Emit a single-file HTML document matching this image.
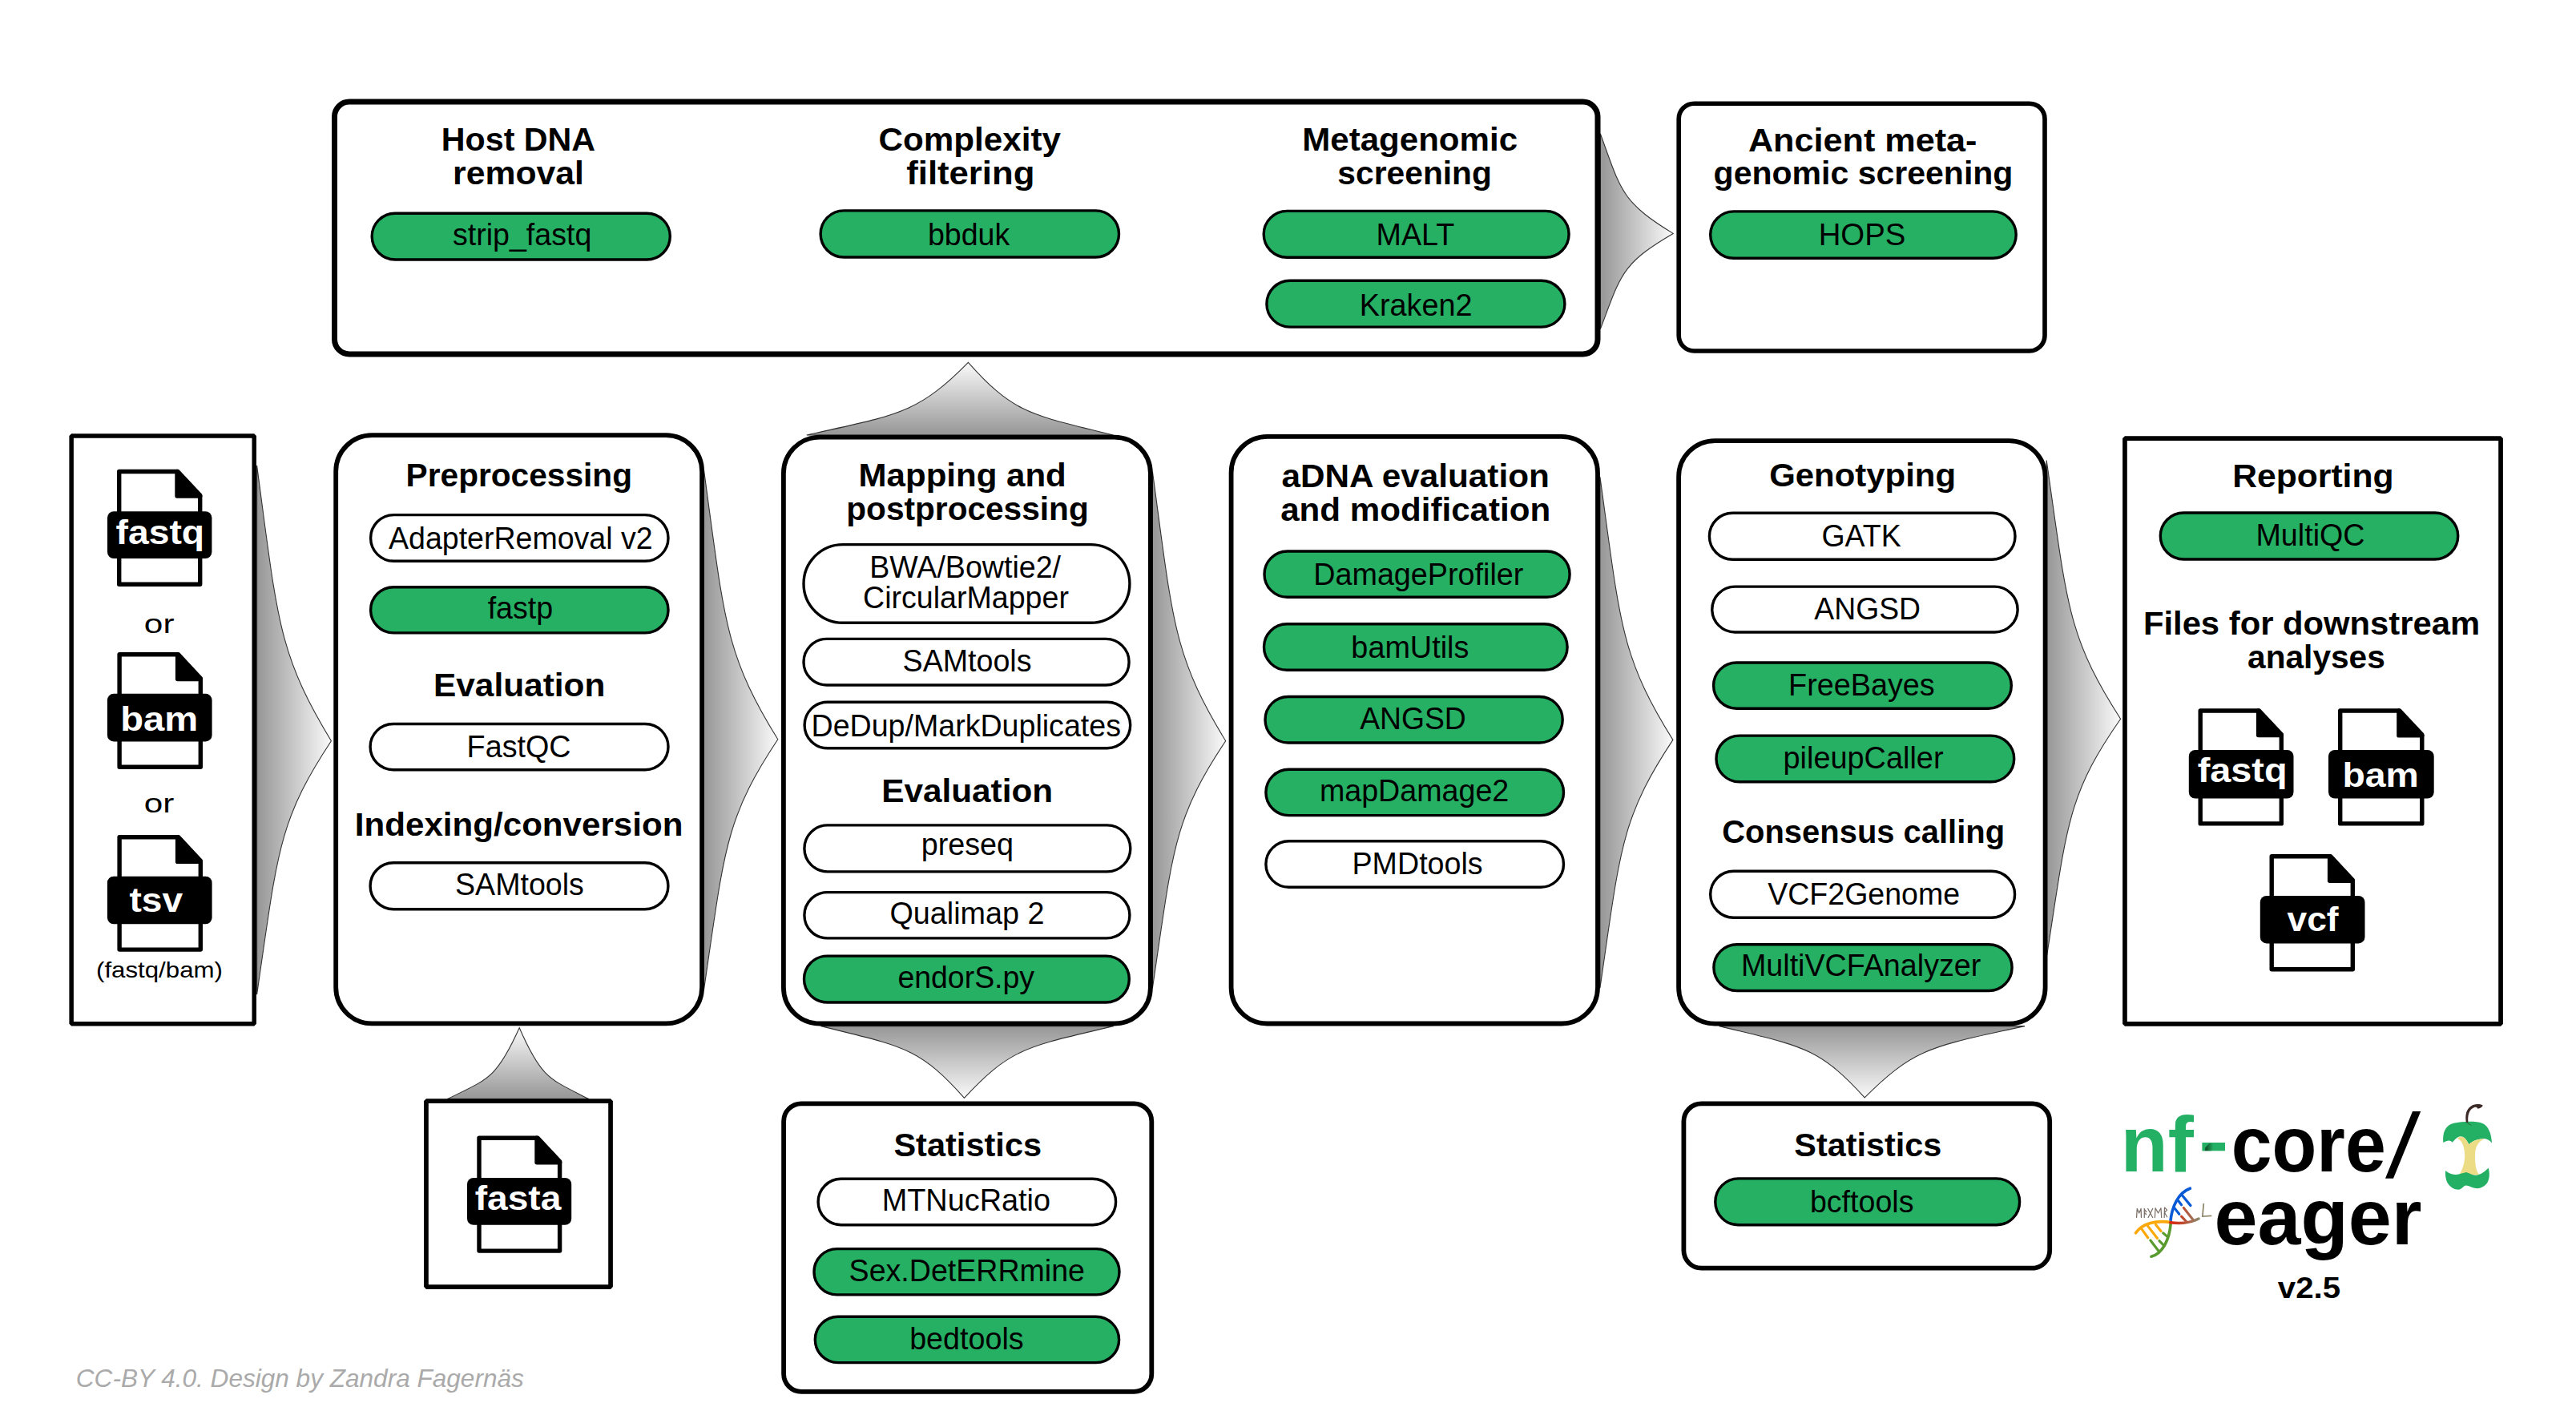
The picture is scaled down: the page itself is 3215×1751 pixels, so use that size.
<!DOCTYPE html><html><head><meta charset="utf-8"><style>html,body{margin:0;padding:0;background:#fff;width:3215px;height:1751px;overflow:hidden}svg{display:block}.p{font-family:"Liberation Sans",sans-serif;text-anchor:middle;fill:#000}.h{font-family:"Liberation Sans",sans-serif;font-weight:bold;text-anchor:middle;fill:#000}</style></head><body>
<svg width="3215" height="1751" viewBox="0 0 3215 1751">
<rect width="3215" height="1751" fill="#fff"/>
<linearGradient id="g3" gradientUnits="userSpaceOnUse" x1="320.6" y1="0" x2="413.4" y2="0"><stop offset="0" stop-color="#969696"/><stop offset="1" stop-color="#fafafa"/></linearGradient>
<path d="M320.6,581.1 C346.6,773.5 346.6,814.7 413.4,924.7 C346.6,1025.9 346.6,1063.9 320.6,1241.1 Z" fill="url(#g3)" stroke="#333" stroke-width="1.1"/>
<linearGradient id="g5" gradientUnits="userSpaceOnUse" x1="878.4" y1="0" x2="970.8" y2="0"><stop offset="0" stop-color="#969696"/><stop offset="1" stop-color="#fafafa"/></linearGradient>
<path d="M878.4,585.8 C904.3,774.5 904.3,815.0 970.8,922.8 C904.3,1023.0 904.3,1060.6 878.4,1235.9 Z" fill="url(#g5)" stroke="#333" stroke-width="1.1"/>
<linearGradient id="g7" gradientUnits="userSpaceOnUse" x1="1438.4" y1="0" x2="1529.7" y2="0"><stop offset="0" stop-color="#969696"/><stop offset="1" stop-color="#fafafa"/></linearGradient>
<path d="M1438.4,588.5 C1464.0,776.8 1464.0,817.1 1529.7,924.7 C1464.0,1023.4 1464.0,1060.4 1438.4,1233.2 Z" fill="url(#g7)" stroke="#333" stroke-width="1.1"/>
<linearGradient id="g9" gradientUnits="userSpaceOnUse" x1="1996.9" y1="0" x2="2087.9" y2="0"><stop offset="0" stop-color="#969696"/><stop offset="1" stop-color="#fafafa"/></linearGradient>
<path d="M1996.9,595.1 C2022.4,778.9 2022.4,818.3 2087.9,923.4 C2022.4,1022.5 2022.4,1059.7 1996.9,1233.2 Z" fill="url(#g9)" stroke="#333" stroke-width="1.1"/>
<linearGradient id="g11" gradientUnits="userSpaceOnUse" x1="2554.2" y1="0" x2="2646.6" y2="0"><stop offset="0" stop-color="#969696"/><stop offset="1" stop-color="#fafafa"/></linearGradient>
<path d="M2554.2,574.5 C2580.1,755.2 2580.1,793.9 2646.6,897.2 C2580.1,992.6 2580.1,1028.4 2554.2,1195.3 Z" fill="url(#g11)" stroke="#333" stroke-width="1.1"/>
<linearGradient id="g13" gradientUnits="userSpaceOnUse" x1="1997.4" y1="0" x2="2088.2" y2="0"><stop offset="0" stop-color="#969696"/><stop offset="1" stop-color="#fafafa"/></linearGradient>
<path d="M1997.4,167 C2022.8,236.7 2022.8,251.6 2088.2,291.4 C2022.8,329.5 2022.8,343.8 1997.4,410.6 Z" fill="url(#g13)" stroke="#333" stroke-width="1.1"/>
<linearGradient id="g15" gradientUnits="userSpaceOnUse" x1="0" y1="543" x2="0" y2="452.3"><stop offset="0" stop-color="#969696"/><stop offset="1" stop-color="#fafafa"/></linearGradient>
<path d="M1006.8,543 C1119.7,517.6 1143.9,517.6 1208.4,452.3 C1266.4,517.6 1288.1,517.6 1389.6,543 Z" fill="url(#g15)" stroke="#333" stroke-width="1.1"/>
<linearGradient id="g17" gradientUnits="userSpaceOnUse" x1="0" y1="1371.6" x2="0" y2="1282.8"><stop offset="0" stop-color="#969696"/><stop offset="1" stop-color="#fafafa"/></linearGradient>
<path d="M558.4,1371.6 C608.7,1346.7 619.5,1346.7 648.2,1282.8 C676.0,1346.7 686.4,1346.7 735,1371.6 Z" fill="url(#g17)" stroke="#333" stroke-width="1.1"/>
<linearGradient id="g19" gradientUnits="userSpaceOnUse" x1="0" y1="1280.6" x2="0" y2="1370.3"><stop offset="0" stop-color="#969696"/><stop offset="1" stop-color="#fafafa"/></linearGradient>
<path d="M1024.5,1280.6 C1124.7,1305.7 1146.2,1305.7 1203.5,1370.3 C1263.1,1305.7 1285.4,1305.7 1389.7,1280.6 Z" fill="url(#g19)" stroke="#333" stroke-width="1.1"/>
<linearGradient id="g21" gradientUnits="userSpaceOnUse" x1="0" y1="1280.6" x2="0" y2="1369.9"><stop offset="0" stop-color="#969696"/><stop offset="1" stop-color="#fafafa"/></linearGradient>
<path d="M2145.6,1280.6 C2247.3,1305.6 2269.1,1305.6 2327.2,1369.9 C2391.1,1305.6 2415.1,1305.6 2527,1280.6 Z" fill="url(#g21)" stroke="#333" stroke-width="1.1"/>
<rect x="417.50" y="127.00" width="1576.50" height="315.00" rx="18.5" fill="#fff" stroke="#000" stroke-width="7" stroke-linejoin="miter"/>
<rect x="2095.20" y="129.20" width="456.80" height="308.80" rx="19.2" fill="#fff" stroke="#000" stroke-width="5.6" stroke-linejoin="miter"/>
<rect x="89.15" y="543.95" width="228.10" height="733.90" rx="0.0" fill="#fff" stroke="#000" stroke-width="5.5" stroke-linejoin="bevel"/>
<rect x="419.20" y="543.20" width="456.90" height="734.20" rx="45.1" fill="#fff" stroke="#000" stroke-width="5.8" stroke-linejoin="miter"/>
<rect x="977.90" y="545.60" width="458.00" height="731.90" rx="45.1" fill="#fff" stroke="#000" stroke-width="5.8" stroke-linejoin="miter"/>
<rect x="1536.60" y="544.90" width="457.40" height="732.60" rx="45.1" fill="#fff" stroke="#000" stroke-width="5.8" stroke-linejoin="miter"/>
<rect x="2095.10" y="550.10" width="457.50" height="727.50" rx="45.1" fill="#fff" stroke="#000" stroke-width="5.8" stroke-linejoin="miter"/>
<rect x="2651.95" y="547.05" width="469.10" height="730.90" rx="0.0" fill="#fff" stroke="#000" stroke-width="5.7" stroke-linejoin="bevel"/>
<rect x="531.95" y="1374.05" width="230.10" height="232.00" rx="0.0" fill="#fff" stroke="#000" stroke-width="5.7" stroke-linejoin="bevel"/>
<rect x="978.10" y="1377.30" width="459.20" height="359.50" rx="22.1" fill="#fff" stroke="#000" stroke-width="5.8" stroke-linejoin="miter"/>
<rect x="2101.40" y="1377.40" width="456.80" height="205.30" rx="22.1" fill="#fff" stroke="#000" stroke-width="5.8" stroke-linejoin="miter"/>
<text x="550.84" y="188.2" class="h" style="text-anchor:start;" font-size="40" textLength="192.24" lengthAdjust="spacingAndGlyphs">Host DNA</text>
<text x="565.08" y="229.6" class="h" style="text-anchor:start;" font-size="40" textLength="163.84" lengthAdjust="spacingAndGlyphs">removal</text>
<text x="1096.47" y="188.2" class="h" style="text-anchor:start;" font-size="40" textLength="227.46" lengthAdjust="spacingAndGlyphs">Complexity</text>
<text x="1131.25" y="229.7" class="h" style="text-anchor:start;" font-size="40" textLength="160.07" lengthAdjust="spacingAndGlyphs">filtering</text>
<text x="1625.19" y="187.8" class="h" style="text-anchor:start;" font-size="40" textLength="268.85" lengthAdjust="spacingAndGlyphs">Metagenomic</text>
<text x="1669.37" y="230.1" class="h" style="text-anchor:start;" font-size="40" textLength="192.56" lengthAdjust="spacingAndGlyphs">screening</text>
<text x="2181.92" y="188.6" class="h" style="text-anchor:start;" font-size="40" textLength="285.61" lengthAdjust="spacingAndGlyphs">Ancient meta-</text>
<text x="2138.62" y="229.9" class="h" style="text-anchor:start;" font-size="40" textLength="373.83" lengthAdjust="spacingAndGlyphs">genomic screening</text>
<rect x="464.2" y="266.2" width="372.1" height="57.8" rx="28.9" fill="#25b063" stroke="#000" stroke-width="3.4"/>
<text x="564.95" y="306.4" class="p" style="text-anchor:start" font-size="38" textLength="173.45" lengthAdjust="spacingAndGlyphs">strip_fastq</text>
<rect x="1024.1" y="262.9" width="372.4" height="58.1" rx="29.1" fill="#25b063" stroke="#000" stroke-width="3.4"/>
<text x="1157.88" y="305.9" class="p" style="text-anchor:start" font-size="38" textLength="102.37" lengthAdjust="spacingAndGlyphs">bbduk</text>
<rect x="1577.2" y="263.4" width="380.9" height="57.9" rx="29.0" fill="#25b063" stroke="#000" stroke-width="3.4"/>
<text x="1717.60" y="306.3" class="p" style="text-anchor:start" font-size="38" textLength="97.64" lengthAdjust="spacingAndGlyphs">MALT</text>
<rect x="1580.9" y="350.2" width="372.0" height="57.9" rx="29.0" fill="#25b063" stroke="#000" stroke-width="3.4"/>
<text x="1696.80" y="393.5" class="p" style="text-anchor:start" font-size="38" textLength="140.70" lengthAdjust="spacingAndGlyphs">Kraken2</text>
<rect x="2134.7" y="263.9" width="381.5" height="58.4" rx="29.2" fill="#25b063" stroke="#000" stroke-width="3.4"/>
<text x="2269.66" y="305.8" class="p" style="text-anchor:start" font-size="38" textLength="108.60" lengthAdjust="spacingAndGlyphs">HOPS</text>
<text x="506.58" y="607.0" class="h" style="text-anchor:start;" font-size="40" textLength="282.44" lengthAdjust="spacingAndGlyphs">Preprocessing</text>
<rect x="462.6" y="642.6" width="371.4" height="57.7" rx="28.9" fill="#fff" stroke="#000" stroke-width="3.4"/>
<text x="485.03" y="685.0" class="p" style="text-anchor:start" font-size="38" textLength="329.56" lengthAdjust="spacingAndGlyphs">AdapterRemoval v2</text>
<rect x="462.6" y="732.7" width="371.4" height="57.2" rx="28.6" fill="#25b063" stroke="#000" stroke-width="3.4"/>
<text x="608.67" y="771.7" class="p" style="text-anchor:start" font-size="38" textLength="81.51" lengthAdjust="spacingAndGlyphs">fastp</text>
<text x="540.96" y="868.6" class="h" style="text-anchor:start;" font-size="40" textLength="214.47" lengthAdjust="spacingAndGlyphs">Evaluation</text>
<rect x="462.1" y="903.5" width="371.9" height="57.2" rx="28.6" fill="#fff" stroke="#000" stroke-width="3.4"/>
<text x="582.60" y="945.0" class="p" style="text-anchor:start" font-size="38" textLength="130.03" lengthAdjust="spacingAndGlyphs">FastQC</text>
<text x="442.88" y="1042.6" class="h" style="text-anchor:start;" font-size="40" textLength="409.53" lengthAdjust="spacingAndGlyphs">Indexing/conversion</text>
<rect x="462.1" y="1076.7" width="371.8" height="58.0" rx="29.0" fill="#fff" stroke="#000" stroke-width="3.4"/>
<text x="567.99" y="1116.7" class="p" style="text-anchor:start" font-size="38" textLength="160.87" lengthAdjust="spacingAndGlyphs">SAMtools</text>
<text x="1071.59" y="606.7" class="h" style="text-anchor:start;" font-size="40" textLength="259.18" lengthAdjust="spacingAndGlyphs">Mapping and</text>
<text x="1056.32" y="648.6" class="h" style="text-anchor:start;" font-size="40" textLength="302.39" lengthAdjust="spacingAndGlyphs">postprocessing</text>
<rect x="1003.0" y="679.6" width="406.9" height="97.7" rx="48.9" fill="#fff" stroke="#000" stroke-width="3.4"/>
<text x="1085.24" y="720.7" class="p" style="text-anchor:start" font-size="38" textLength="238.76" lengthAdjust="spacingAndGlyphs">BWA/Bowtie2/</text>
<text x="1077.09" y="758.9" class="p" style="text-anchor:start" font-size="38" textLength="256.83" lengthAdjust="spacingAndGlyphs">CircularMapper</text>
<rect x="1003.0" y="797.4" width="406.1" height="57.6" rx="28.8" fill="#fff" stroke="#000" stroke-width="3.4"/>
<text x="1126.59" y="838.1" class="p" style="text-anchor:start" font-size="38" textLength="160.97" lengthAdjust="spacingAndGlyphs">SAMtools</text>
<rect x="1004.1" y="876.2" width="406.6" height="57.5" rx="28.7" fill="#fff" stroke="#000" stroke-width="3.4"/>
<text x="1012.52" y="918.9" class="p" style="text-anchor:start" font-size="38" textLength="386.44" lengthAdjust="spacingAndGlyphs">DeDup/MarkDuplicates</text>
<text x="1100.27" y="1000.6" class="h" style="text-anchor:start;" font-size="40" textLength="213.85" lengthAdjust="spacingAndGlyphs">Evaluation</text>
<rect x="1003.9" y="1029.9" width="406.9" height="58.0" rx="29.0" fill="#fff" stroke="#000" stroke-width="3.4"/>
<text x="1149.67" y="1066.5" class="p" style="text-anchor:start" font-size="38" textLength="115.45" lengthAdjust="spacingAndGlyphs">preseq</text>
<rect x="1003.9" y="1113.6" width="406.0" height="57.3" rx="28.6" fill="#fff" stroke="#000" stroke-width="3.4"/>
<text x="1110.41" y="1153.1" class="p" style="text-anchor:start" font-size="38" textLength="193.09" lengthAdjust="spacingAndGlyphs">Qualimap 2</text>
<rect x="1003.5" y="1193.1" width="405.8" height="57.9" rx="28.9" fill="#25b063" stroke="#000" stroke-width="3.4"/>
<text x="1120.41" y="1233.0" class="p" style="text-anchor:start" font-size="38" textLength="170.66" lengthAdjust="spacingAndGlyphs">endorS.py</text>
<text x="1599.57" y="608.1" class="h" style="text-anchor:start;" font-size="40" textLength="334.24" lengthAdjust="spacingAndGlyphs">aDNA evaluation</text>
<text x="1598.17" y="649.8" class="h" style="text-anchor:start;" font-size="40" textLength="337.05" lengthAdjust="spacingAndGlyphs">and modification</text>
<rect x="1578.0" y="688.0" width="381.1" height="57.3" rx="28.7" fill="#25b063" stroke="#000" stroke-width="3.4"/>
<text x="1639.20" y="729.5" class="p" style="text-anchor:start" font-size="38" textLength="262.22" lengthAdjust="spacingAndGlyphs">DamageProfiler</text>
<rect x="1577.5" y="778.8" width="378.6" height="57.5" rx="28.7" fill="#25b063" stroke="#000" stroke-width="3.4"/>
<text x="1686.36" y="820.8" class="p" style="text-anchor:start" font-size="38" textLength="147.00" lengthAdjust="spacingAndGlyphs">bamUtils</text>
<rect x="1579.0" y="869.5" width="371.2" height="57.5" rx="28.8" fill="#25b063" stroke="#000" stroke-width="3.4"/>
<text x="1697.13" y="909.8" class="p" style="text-anchor:start" font-size="38" textLength="132.66" lengthAdjust="spacingAndGlyphs">ANGSD</text>
<rect x="1579.9" y="960.2" width="371.6" height="57.4" rx="28.7" fill="#25b063" stroke="#000" stroke-width="3.4"/>
<text x="1646.90" y="1000.4" class="p" style="text-anchor:start" font-size="38" textLength="236.39" lengthAdjust="spacingAndGlyphs">mapDamage2</text>
<rect x="1579.9" y="1049.7" width="371.6" height="57.6" rx="28.8" fill="#fff" stroke="#000" stroke-width="3.4"/>
<text x="1687.51" y="1090.7" class="p" style="text-anchor:start" font-size="38" textLength="163.15" lengthAdjust="spacingAndGlyphs">PMDtools</text>
<text x="2208.18" y="607.0" class="h" style="text-anchor:start;" font-size="40" textLength="232.82" lengthAdjust="spacingAndGlyphs">Genotyping</text>
<rect x="2133.4" y="640.2" width="381.6" height="58.0" rx="29.0" fill="#fff" stroke="#000" stroke-width="3.4"/>
<text x="2273.47" y="681.7" class="p" style="text-anchor:start" font-size="38" textLength="99.24" lengthAdjust="spacingAndGlyphs">GATK</text>
<rect x="2136.8" y="732.1" width="381.3" height="56.9" rx="28.5" fill="#fff" stroke="#000" stroke-width="3.4"/>
<text x="2264.33" y="773.3" class="p" style="text-anchor:start" font-size="38" textLength="132.66" lengthAdjust="spacingAndGlyphs">ANGSD</text>
<rect x="2138.6" y="827.0" width="371.7" height="57.2" rx="28.6" fill="#25b063" stroke="#000" stroke-width="3.4"/>
<text x="2232.10" y="868.2" class="p" style="text-anchor:start" font-size="38" textLength="182.66" lengthAdjust="spacingAndGlyphs">FreeBayes</text>
<rect x="2142.0" y="918.1" width="371.7" height="57.7" rx="28.9" fill="#25b063" stroke="#000" stroke-width="3.4"/>
<text x="2225.56" y="958.5" class="p" style="text-anchor:start" font-size="38" textLength="199.97" lengthAdjust="spacingAndGlyphs">pileupCaller</text>
<text x="2149.26" y="1051.6" class="h" style="text-anchor:start;" font-size="40" textLength="352.81" lengthAdjust="spacingAndGlyphs">Consensus calling</text>
<rect x="2134.7" y="1087.3" width="379.9" height="57.9" rx="29.0" fill="#fff" stroke="#000" stroke-width="3.4"/>
<text x="2206.24" y="1129.2" class="p" style="text-anchor:start" font-size="38" textLength="239.83" lengthAdjust="spacingAndGlyphs">VCF2Genome</text>
<rect x="2138.9" y="1178.7" width="372.2" height="57.8" rx="28.9" fill="#25b063" stroke="#000" stroke-width="3.4"/>
<text x="2172.93" y="1218.3" class="p" style="text-anchor:start" font-size="38" textLength="299.39" lengthAdjust="spacingAndGlyphs">MultiVCFAnalyzer</text>
<text x="2786.15" y="607.9" class="h" style="text-anchor:start;" font-size="40" textLength="201.41" lengthAdjust="spacingAndGlyphs">Reporting</text>
<rect x="2696.3" y="640.0" width="371.4" height="58.0" rx="29.0" fill="#25b063" stroke="#000" stroke-width="3.4"/>
<text x="2815.51" y="681.0" class="p" style="text-anchor:start" font-size="38" textLength="136.02" lengthAdjust="spacingAndGlyphs">MultiQC</text>
<text x="2674.91" y="792.3" class="h" style="text-anchor:start;" font-size="40" textLength="420.19" lengthAdjust="spacingAndGlyphs">Files for downstream</text>
<text x="2805.11" y="834.1" class="h" style="text-anchor:start;" font-size="40" textLength="171.66" lengthAdjust="spacingAndGlyphs">analyses</text>
<path d="M2746.2,887.0 L2819.6,887.0 L2847.3,916.6 L2847.3,1027.9 L2746.2,1027.9 Z" fill="#fff" stroke="#000" stroke-width="5.4" stroke-linejoin="round"/>
<path d="M2818.6,887.0 L2847.3,917.6 L2818.6,917.6 Z" fill="#000" stroke="#000" stroke-width="5.4" stroke-linejoin="round"/>
<rect x="2731.8" y="936.0" width="130.7" height="60.6" rx="8" fill="#000"/>
<text x="2742.70" y="976.0" class="h" style="fill:#fff;text-anchor:start" font-size="43" textLength="111.83" lengthAdjust="spacingAndGlyphs">fastq</text>
<path d="M2920.7,887.0 L2994.9,887.0 L3022.8,916.9 L3022.8,1027.9 L2920.7,1027.9 Z" fill="#fff" stroke="#000" stroke-width="5.4" stroke-linejoin="round"/>
<path d="M2993.9,887.0 L3022.8,917.9 L2993.9,917.9 Z" fill="#000" stroke="#000" stroke-width="5.4" stroke-linejoin="round"/>
<rect x="2906.0" y="936.0" width="131.7" height="60.6" rx="8" fill="#000"/>
<text x="2923.44" y="981.6" class="h" style="fill:#fff;text-anchor:start" font-size="43" textLength="95.44" lengthAdjust="spacingAndGlyphs">bam</text>
<path d="M2835.2,1068.7 L2908.6,1068.7 L2936.3,1098.3 L2936.3,1209.7 L2835.2,1209.7 Z" fill="#fff" stroke="#000" stroke-width="5.4" stroke-linejoin="round"/>
<path d="M2907.6,1068.7 L2936.3,1099.3 L2907.6,1099.3 Z" fill="#000" stroke="#000" stroke-width="5.4" stroke-linejoin="round"/>
<rect x="2820.8" y="1118.0" width="130.7" height="59.4" rx="8" fill="#000"/>
<text x="2854.53" y="1162.4" class="h" style="fill:#fff;text-anchor:start" font-size="43" textLength="64.09" lengthAdjust="spacingAndGlyphs">vcf</text>
<path d="M148.7,588.5 L222.0,588.5 L249.7,618.1 L249.7,729.3 L148.7,729.3 Z" fill="#fff" stroke="#000" stroke-width="5.4" stroke-linejoin="round"/>
<path d="M221.0,588.5 L249.7,619.1 L221.0,619.1 Z" fill="#000" stroke="#000" stroke-width="5.4" stroke-linejoin="round"/>
<rect x="134.0" y="638.2" width="130.4" height="58.8" rx="8" fill="#000"/>
<text x="144.51" y="678.8" class="h" style="fill:#fff;text-anchor:start" font-size="43" textLength="110.59" lengthAdjust="spacingAndGlyphs">fastq</text>
<text x="179.82" y="789.8" class="p" style="text-anchor:start;" font-size="34" textLength="37.68" lengthAdjust="spacingAndGlyphs">or</text>
<path d="M149.1,816.8 L222.6,816.8 L250.3,846.5 L250.3,957.2 L149.1,957.2 Z" fill="#fff" stroke="#000" stroke-width="5.4" stroke-linejoin="round"/>
<path d="M221.6,816.8 L250.3,847.5 L221.6,847.5 Z" fill="#000" stroke="#000" stroke-width="5.4" stroke-linejoin="round"/>
<rect x="133.9" y="865.8" width="130.7" height="59.6" rx="8" fill="#000"/>
<text x="150.19" y="911.9" class="h" style="fill:#fff;text-anchor:start" font-size="43" textLength="96.93" lengthAdjust="spacingAndGlyphs">bam</text>
<text x="179.73" y="1013.8" class="p" style="text-anchor:start;" font-size="34" textLength="37.58" lengthAdjust="spacingAndGlyphs">or</text>
<path d="M149.1,1044.7 L222.6,1044.7 L250.3,1074.4 L250.3,1185.1 L149.1,1185.1 Z" fill="#fff" stroke="#000" stroke-width="5.4" stroke-linejoin="round"/>
<path d="M221.6,1044.7 L250.3,1075.4 L221.6,1075.4 Z" fill="#000" stroke="#000" stroke-width="5.4" stroke-linejoin="round"/>
<rect x="133.9" y="1093.7" width="130.7" height="59.6" rx="8" fill="#000"/>
<text x="161.44" y="1137.6" class="h" style="fill:#fff;text-anchor:start" font-size="43" textLength="66.67" lengthAdjust="spacingAndGlyphs">tsv</text>
<text x="120.06" y="1220.0" class="p" style="text-anchor:start;" font-size="28" textLength="157.87" lengthAdjust="spacingAndGlyphs">(fastq/bam)</text>
<path d="M598.0,1420.2 L671.0,1420.2 L698.6,1449.7 L698.6,1561.1 L598.0,1561.1 Z" fill="#fff" stroke="#000" stroke-width="5.4" stroke-linejoin="round"/>
<path d="M670.0,1420.2 L698.6,1450.7 L670.0,1450.7 Z" fill="#000" stroke="#000" stroke-width="5.4" stroke-linejoin="round"/>
<rect x="583.0" y="1470.0" width="130.2" height="58.8" rx="8" fill="#000"/>
<text x="592.71" y="1509.6" class="h" style="fill:#fff;text-anchor:start" font-size="43" textLength="107.60" lengthAdjust="spacingAndGlyphs">fasta</text>
<text x="1115.40" y="1442.6" class="h" style="text-anchor:start;" font-size="40" textLength="184.70" lengthAdjust="spacingAndGlyphs">Statistics</text>
<rect x="1021.1" y="1471.3" width="371.5" height="57.4" rx="28.7" fill="#fff" stroke="#000" stroke-width="3.4"/>
<text x="1100.69" y="1510.9" class="p" style="text-anchor:start" font-size="38" textLength="210.40" lengthAdjust="spacingAndGlyphs">MTNucRatio</text>
<rect x="1016.0" y="1558.6" width="381.0" height="57.3" rx="28.6" fill="#25b063" stroke="#000" stroke-width="3.4"/>
<text x="1059.59" y="1598.9" class="p" style="text-anchor:start" font-size="38" textLength="294.38" lengthAdjust="spacingAndGlyphs">Sex.DetERRmine</text>
<rect x="1017.3" y="1643.2" width="379.3" height="57.4" rx="28.7" fill="#25b063" stroke="#000" stroke-width="3.4"/>
<text x="1135.17" y="1683.9" class="p" style="text-anchor:start" font-size="38" textLength="142.49" lengthAdjust="spacingAndGlyphs">bedtools</text>
<text x="2239.31" y="1442.8" class="h" style="text-anchor:start;" font-size="40" textLength="184.09" lengthAdjust="spacingAndGlyphs">Statistics</text>
<rect x="2140.8" y="1470.9" width="379.8" height="57.9" rx="28.9" fill="#25b063" stroke="#000" stroke-width="3.4"/>
<text x="2258.88" y="1512.7" class="p" style="text-anchor:start" font-size="38" textLength="129.58" lengthAdjust="spacingAndGlyphs">bcftools</text>
<text x="94.8" y="1731.4" font-family="Liberation Sans" font-style="italic" font-size="32" fill="#aaa" textLength="559" lengthAdjust="spacingAndGlyphs">CC-BY 4.0. Design by Zandra Fagern&#228;s</text>
<text x="2646.84" y="1461.5" class="h" style="text-anchor:start;fill:#24b064" font-size="99" textLength="91.07" lengthAdjust="spacingAndGlyphs">nf</text>
<linearGradient id="dash" x1="0" y1="0" x2="1" y2="0"><stop offset="0" stop-color="#24b064"/><stop offset="0.12" stop-color="#24b064"/><stop offset="0.2" stop-color="#0d4a25"/><stop offset="0.7" stop-color="#24b064"/><stop offset="1" stop-color="#24b064"/></linearGradient>
<rect x="2748.4" y="1426" width="28.6" height="10.3" fill="#24b064"/>
<path d="M2749,1436.3 L2757,1427 L2768,1427 L2760,1436.3 Z" fill="url(#dash)"/>
<text x="2784.73" y="1461.5" class="h" style="text-anchor:start;" font-size="99" textLength="192.99" lengthAdjust="spacingAndGlyphs">core</text>
<path d="M3011,1387 L3021.2,1387 L2987,1470.8 L2977,1470.8 Z" fill="#000"/>
<text x="2763.61" y="1552.6" class="h" style="text-anchor:start;" font-size="99" textLength="258.96" lengthAdjust="spacingAndGlyphs">eager</text>
<text x="2842.74" y="1619.6" class="h" style="text-anchor:start;" font-size="36" textLength="78.38" lengthAdjust="spacingAndGlyphs">v2.5</text>
<g transform="translate(3030,1370) scale(0.08554)">
<path d="M225,655 C215,520 250,400 380,372 C500,345 700,338 790,370 C880,400 930,520 935,660 C890,610 850,595 800,598 C720,602 650,630 600,680 C560,600 520,565 480,565 C430,570 400,610 360,652 C340,630 320,622 300,625 C270,630 250,640 225,655 Z" fill="#24b064"/>
<path d="M430,590 C470,560 520,560 560,610 L600,680 C650,630 720,600 830,598 C730,640 690,720 690,850 C690,950 700,1060 750,1125 L460,1125 C510,1040 540,940 540,850 C540,720 500,620 430,590 Z" fill="#ecdc86"/>
<path d="M260,1065 C300,1100 350,1125 410,1122 C470,1118 520,1095 560,1088 C610,1100 640,1130 700,1130 C770,1128 830,1075 885,1025 C905,1090 905,1170 870,1240 C830,1300 760,1330 700,1322 C640,1310 600,1285 560,1280 C520,1285 500,1330 460,1340 C380,1345 300,1290 270,1200 C255,1150 255,1100 260,1065 Z" fill="#24b064"/>
<path d="M560,365 C540,250 560,150 660,105 C720,85 780,95 805,112 C790,140 760,160 730,160 C720,140 700,135 680,140 C600,170 580,260 590,360 Z" fill="#3c2a28"/>
<path d="M575,365 C600,375 630,390 648,412 C620,400 590,385 575,375 Z" fill="#2a5a33"/>
</g>
<g transform="translate(2660,1478) scale(0.06916)" fill="none" stroke-linecap="round">
<path d="M705,685 C730,400 850,150 1060,75" stroke="#0a5ad6" stroke-width="52"/>
<path d="M905,185 L1070,385 M850,300 L905,372 M775,425 L865,540" stroke="#0a5ad6" stroke-width="46"/>
<path d="M700,685 C450,650 200,700 80,880" stroke="#fba90a" stroke-width="52"/>
<path d="M185,805 L300,965 M295,750 L470,975 M440,725 L535,845" stroke="#fba90a" stroke-width="46"/>
<path d="M712,700 C690,1000 560,1260 360,1305" stroke="#5a9b30" stroke-width="52"/>
<path d="M345,1012 L500,1215 M505,1020 L595,1110 M575,880 L650,945" stroke="#5a9b30" stroke-width="46"/>
<linearGradient id="rb" gradientUnits="userSpaceOnUse" x1="700" y1="0" x2="1220" y2="0"><stop offset="0" stop-color="#e0200a"/><stop offset="0.55" stop-color="#b4553a"/><stop offset="1" stop-color="#8f8a70"/></linearGradient>
<path d="M705,690 C900,715 1080,690 1215,622" stroke="url(#rb)" stroke-width="50"/>
<path d="M905,580 L985,665 M945,425 L1125,655" stroke="url(#rb)" stroke-width="46"/>
<path d="M95,600 L105,440 L140,520 L175,440 L180,600 M235,600 L235,440 M235,455 L275,500 M235,510 L270,545 M305,600 L385,440 M300,440 L385,600 M425,600 L435,430 L485,520 L535,430 L545,600 M595,600 L600,420 L645,465 L600,510 L645,590" stroke="#7a6e66" stroke-width="18" stroke-linejoin="round"/>
<path d="M1305,355 L1285,580 L1440,570" stroke="#8f8a70" stroke-width="26"/>
</g>
</svg></body></html>
